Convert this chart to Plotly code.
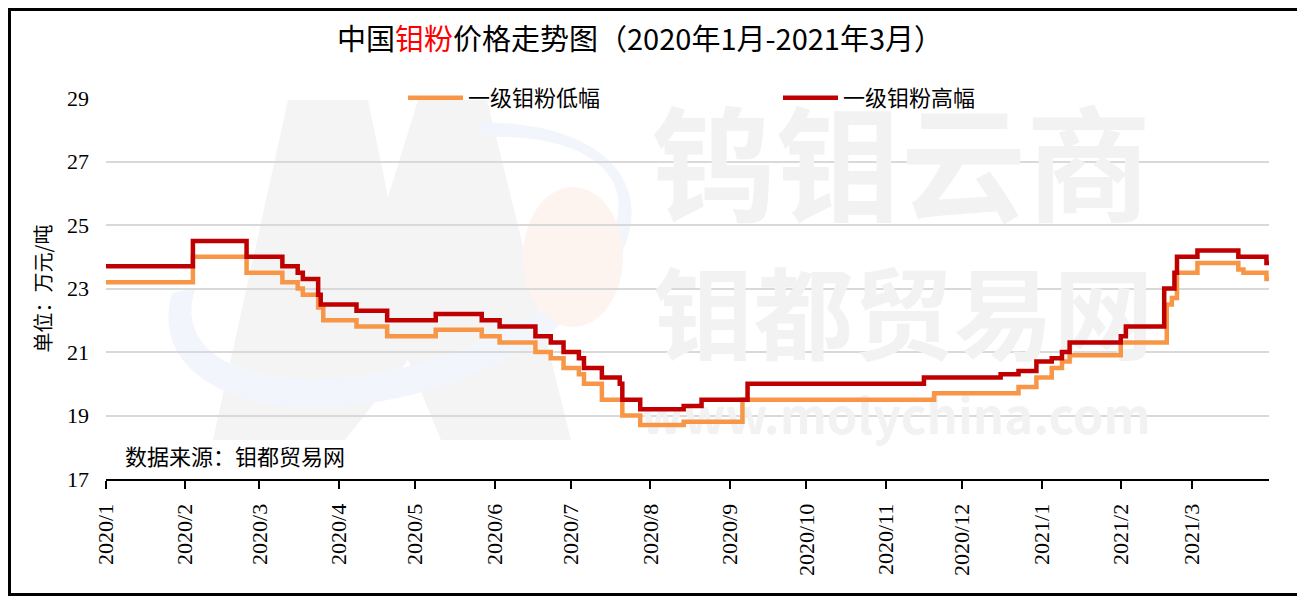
#!/usr/bin/env python3
"""
Molybdenum powder price trend chart (2020/1 - 2021/3)
"""

import math
import pandas as pd
import plotly.graph_objects as go

# Low-grade series: change dates and price (10k yuan / ton)
low_dates = [
    "2020-01-01", "2020-02-04", "2020-02-25", "2020-03-10", "2020-03-16",
    "2020-03-18", "2020-03-24", "2020-03-26", "2020-04-08", "2020-04-20",
    "2020-05-09", "2020-05-27", "2020-06-03", "2020-06-17", "2020-06-23",
    "2020-06-28", "2020-07-04", "2020-07-06", "2020-07-13", "2020-07-21",
    "2020-07-28", "2020-08-14", "2020-09-06", "2020-11-20", "2020-12-23",
    "2020-12-30", "2021-01-05", "2021-01-09", "2021-01-12", "2021-02-01",
    "2021-02-19", "2021-02-21", "2021-02-23", "2021-03-03", "2021-03-19",
    "2021-03-21", "2021-03-30", "2021-03-31",
]
low_values = [
    23.2, 24.0, 23.5, 23.2, 23.0,
    22.8, 22.4, 22.0, 21.8, 21.5,
    21.7, 21.5, 21.3, 21.0, 20.8,
    20.5, 20.3, 20.0, 19.5, 19.0,
    18.7, 18.8, 19.5, 19.7, 19.9,
    20.2, 20.5, 20.7, 20.9, 21.3,
    22.5, 22.7, 23.5, 23.8, 23.6,
    23.5, 23.3, 23.3,
]

# High-grade series
high_dates = [
    "2020-01-01", "2020-02-04", "2020-02-25", "2020-03-10", "2020-03-16",
    "2020-03-18", "2020-03-24", "2020-03-25", "2020-04-08", "2020-04-20",
    "2020-05-09", "2020-05-27", "2020-06-03", "2020-06-17", "2020-06-23",
    "2020-06-28", "2020-07-04", "2020-07-06", "2020-07-13", "2020-07-20",
    "2020-07-21", "2020-07-28", "2020-08-14", "2020-08-21", "2020-09-08",
    "2020-11-16", "2020-12-16", "2020-12-23", "2020-12-30", "2021-01-05",
    "2021-01-09", "2021-01-12", "2021-02-01", "2021-02-03", "2021-02-18",
    "2021-02-22", "2021-02-23", "2021-03-03", "2021-03-19", "2021-03-30",
    "2021-03-31",
]
high_values = [
    23.7, 24.5, 24.0, 23.7, 23.5,
    23.3, 22.8, 22.5, 22.3, 22.0,
    22.2, 22.0, 21.8, 21.5, 21.3,
    21.0, 20.8, 20.5, 20.2, 20.0,
    19.5, 19.2, 19.3, 19.5, 20.0,
    20.2, 20.3, 20.4, 20.7, 20.8,
    21.0, 21.3, 21.5, 21.8, 23.0,
    23.5, 24.0, 24.2, 24.0, 23.8,
    23.8,
]

# Month ticks
tick_dates = pd.date_range("2020-01-01", "2021-03-01", freq="MS")
tick_labels = [f"{d.year}/{d.month}" for d in tick_dates]

# Watermark texts behind the lines (anchor date, price level, font size)
wm_texts = ["钨钼云商", "钼都贸易网", "www.molychina.com"]
wm_dates = ["2020-11-07", "2020-11-08", "2020-11-05"]
wm_levels = [26.4, 21.8, 18.8]
wm_sizes = [125, 100, 49]

LOW_COLOR = "#F79646"
HIGH_COLOR = "#C00000"
SERIF = "Liberation Serif, Times New Roman, serif"
CJK = "Noto Sans CJK SC, sans-serif"

# page body has an 8px margin, so the figure is a bit smaller than the window
W, H = 1297, 588
ML, MR, MT, MB = 98, 36, 90, 117
PW, PH = W - ML - MR, H - MT - MB
OFF = 8  # page offset of the figure inside the screenshot


def px2paper(x, y):
    # screenshot pixel -> paper fraction of the plot area
    return (x - OFF - ML) / PW, (H - MB - (y - OFF)) / PH


def poly_path(points):
    pts = [px2paper(x, y) for x, y in points]
    return "M" + "L".join(f"{a:.4f},{b:.4f}" for a, b in pts) + "Z"


def ellipse_pts(cx, cy, a, b, rot, t0, t1, n=60):
    r = math.radians(rot)
    out = []
    for i in range(n + 1):
        t = math.radians(t0 + (t1 - t0) * i / n)
        x = cx + a * math.cos(t) * math.cos(r) - b * math.sin(t) * math.sin(r)
        y = cy + a * math.cos(t) * math.sin(r) + b * math.sin(t) * math.cos(r)
        out.append((x, y))
    return out


fig = go.Figure()

# Logo watermark: grey "M", blue swoosh, faint orange disc
m_shape = [(213, 440), (288, 100), (368, 100), (388, 197), (418, 100), (487, 100),
           (571, 440), (441, 440), (408, 360), (345, 440)]
fig.add_shape(type="path", xref="paper", yref="paper", path=poly_path(m_shape),
              fillcolor="#F4F4F4", line=dict(width=0), layer="below")
swoosh = ellipse_pts(400, 265, 240, 128, -18, -60, 200) + \
    ellipse_pts(405, 258, 222, 105, -18, 200, -60)
fig.add_shape(type="path", xref="paper", yref="paper", path=poly_path(swoosh),
              fillcolor="#F2F6FC", line=dict(width=0), layer="below")
disc = ellipse_pts(573, 257, 50, 70, 0, 0, 360)
fig.add_shape(type="path", xref="paper", yref="paper", path=poly_path(disc),
              fillcolor="#FDF4EF", line=dict(width=0), layer="below")

for txt, d, lv, sz in zip(wm_texts, wm_dates, wm_levels, wm_sizes):
    fig.add_trace(go.Scatter(
        x=[pd.Timestamp(d)], y=[lv], mode="text", text=[f"<b>{txt}</b>"],
        textposition="middle center",
        textfont=dict(family=CJK, size=sz, color="#F2F2F2"),
        showlegend=False, hoverinfo="skip",
    ))

fig.add_trace(go.Scatter(
    x=pd.to_datetime(low_dates), y=low_values, name="一级钼粉低幅",
    mode="lines", line=dict(color=LOW_COLOR, width=4.5, shape="hv"),
))
fig.add_trace(go.Scatter(
    x=pd.to_datetime(high_dates), y=high_values, name="一级钼粉高幅",
    mode="lines", line=dict(color=HIGH_COLOR, width=4.5, shape="hv"),
))

fig.add_annotation(
    text="数据来源：钼都贸易网", x=17 / PW, y=24 / PH, xref="paper", yref="paper",
    xanchor="left", yanchor="middle", showarrow=False,
    font=dict(family=CJK, size=22, color="#000"),
)

# Outer frame around the whole picture
fig.add_shape(
    type="rect", xref="paper", yref="paper",
    x0=(-ML + 1.5) / PW, x1=1 + (MR - 1.5) / PW,
    y0=(-MB + 1.5) / PH, y1=1 + (MT - 1.5) / PH,
    line=dict(color="black", width=3),
)

fig.update_layout(
    width=W, height=H,
    margin=dict(l=ML, r=MR, t=MT, b=MB),
    paper_bgcolor="white", plot_bgcolor="white",
    title=dict(
        text="中国<span style='color:#FF0000'>钼粉</span>价格走势图（2020年1月-2021年3月）",
        x=(640 - OFF) / W, xanchor="center", y=1 - (40 - OFF) / H, yanchor="middle",
        font=dict(family=CJK, size=29, color="black"),
    ),
    showlegend=True,
    legend=dict(
        orientation="h", x=(403 - OFF - ML) / PW, y=1.0, xanchor="left", yanchor="middle",
        font=dict(family=CJK, size=22, color="#000"),
        entrywidth=305, entrywidthmode="pixels", bgcolor="rgba(0,0,0,0)",
        itemwidth=55,
    ),
    xaxis=dict(
        type="date", range=["2020-01-01", "2021-03-31"],
        tickvals=tick_dates, ticktext=tick_labels, tickangle=-90,
        tickfont=dict(family=SERIF, size=22, color="#000"),
        showline=True, linecolor="black", linewidth=2,
        ticks="outside", ticklen=8, tickwidth=2, tickcolor="black",
        showgrid=False, zeroline=False, ticklabelstandoff=6,
    ),
    yaxis=dict(
        range=[17, 29], dtick=2, tick0=17,
        tickfont=dict(family=SERIF, size=22, color="#000"),
        showgrid=True, gridcolor="#D9D9D9", gridwidth=2,
        showline=False, zeroline=False, ticks="", ticklabelstandoff=16,
        title=dict(text="单位：万元/吨", font=dict(family=CJK, size=20, color="#000"), standoff=10),
    ),
)

fig.write_html("out.html")
